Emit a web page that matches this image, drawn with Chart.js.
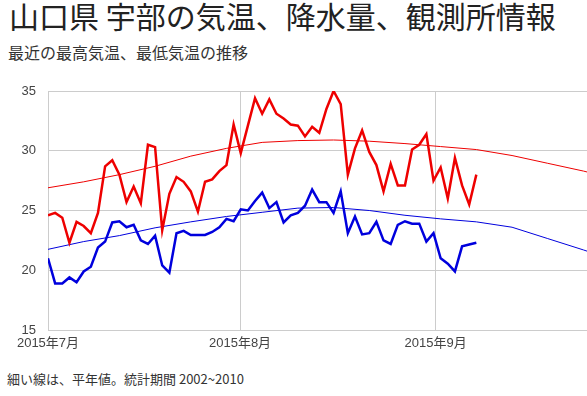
<!DOCTYPE html>
<html>
<head>
<meta charset="utf-8">
<script src="https://cdn.jsdelivr.net/npm/chart.js@4"></script>
<style>
  body { margin: 0; background: #fff; width: 587px; height: 396px; overflow: hidden; position: relative;
         font-family: "Noto Sans CJK JP", "Liberation Sans", sans-serif; }
  .title { position: absolute; left: 9px; top: 0; font-size: 30px; line-height: 30px; color: #222; white-space: nowrap; }
  .sub { position: absolute; left: 8px; top: 42px; font-size: 16px; line-height: 20px; color: #333; white-space: nowrap; }
  .note { position: absolute; left: 7px; top: 371px; font-size: 13px; line-height: 16px; color: #333; white-space: nowrap; }
  #chart { position: absolute; left: 0; top: 80px; }
</style>
</head>
<body>
<div class="title">山口県 宇部の気温、降水量、観測所情報</div>
<div class="sub">最近の最高気温、最低気温の推移</div>
<canvas id="chart" width="587" height="280"></canvas>
<div class="note">細い線は、平年値。統計期間 2002~2010</div>
<script>
// daily max / min (thick lines)
const maxTemp = [24.6, 24.8, 24.4, 22.3, 24.05, 23.7, 23.1, 24.8, 28.7, 29.2,
    28.0, 25.7, 27.0, 25.6, 30.5, 30.3, 23.35, 26.4, 27.8, 27.4,
    26.6, 24.9, 27.4, 27.6, 28.3, 28.8, 32.2, 29.8, 32.1, 34.4,
    33.1, 34.3, 33.1, 32.7, 32.2, 32.1, 31.2, 32.0, 31.5, 33.5,
    35.0, 33.9, 28.0, 30.2, 31.7, 29.9, 28.8, 26.6, 28.9, 27.1,
    27.1, 30.1, 30.5, 31.4, 27.5, 28.6, 26.0, 29.4, 27.1, 25.5, 28.0];
const minTemp = [21.0, 18.9, 18.9, 19.4, 19.0, 19.9, 20.3, 21.9, 22.4, 24.0,
    24.1, 23.6, 23.8, 22.5, 22.2, 22.9, 20.4, 19.8, 23.1, 23.3,
    22.95, 22.95, 22.95, 23.2, 23.6, 24.3, 24.1, 25.1, 25.0, 25.8,
    26.5, 25.2, 25.7, 24.0, 24.6, 24.8, 25.4, 26.75, 25.7, 25.7,
    24.8, 26.6, 23.1, 24.5, 23.0, 23.1, 24.05, 22.5, 22.2, 23.8,
    24.1, 23.9, 23.9, 22.4, 23.1, 21.0, 20.55, 19.9, 22.0, 22.15, 22.3];

// normals (thin lines), read every 5 days
const normalDays = [0, 5, 10, 15, 20, 25, 30, 35, 40, 45, 50, 55, 60, 65, 70, 75, 76];
const normalMax = [26.9, 27.4, 28.0, 28.7, 29.55, 30.2, 30.7, 30.85, 30.9, 30.8, 30.6, 30.35, 30.1, 29.6, 28.95, 28.3, 28.15];
const normalMin = [21.75, 22.4, 22.9, 23.55, 24.05, 24.5, 24.85, 25.2, 25.25, 25.0, 24.6, 24.3, 24.05, 23.6, 22.65, 21.7, 21.5];

const monthTicks = [0, 26.9, 54.3];
const monthLabels = ['2015年7月', '2015年8月', '2015年9月'];
const yTicks = [15, 20, 25, 30, 35];

const toPoints = (xs, ys) => ys.map((v, i) => ({ x: xs ? xs[i] : i, y: v }));

const ctx = document.getElementById('chart').getContext('2d');
const chart = new Chart(ctx, {
    type: 'line',
    data: {
        datasets: [
            { data: toPoints(null, maxTemp), borderColor: '#ee0000', borderWidth: 2.5 },
            { data: toPoints(null, minTemp), borderColor: '#0000dd', borderWidth: 2.5 },
            { data: toPoints(normalDays, normalMax), borderColor: '#ee0000', borderWidth: 1 },
            { data: toPoints(normalDays, normalMin), borderColor: '#0000dd', borderWidth: 1 }
        ]
    },
    options: {
        responsive: false,
        devicePixelRatio: 1,
        animation: false,
        elements: { point: { radius: 0 }, line: { tension: 0, fill: false } },
        layout: { padding: { top: 11, left: 0, right: 0, bottom: 0 } },
        plugins: { legend: { display: false }, tooltip: { enabled: false } },
        scales: {
            x: {
                type: 'linear',
                min: 0,
                max: 75.5,
                afterBuildTicks: (scale) => { scale.ticks = monthTicks.map(v => ({ value: v })); },
                afterFit: (scale) => { scale.height = 30; },
                ticks: {
                    callback: (v, i) => monthLabels[i],
                    maxRotation: 0,
                    autoSkip: false,
                    padding: 6,
                    color: '#444',
                    font: { family: '"Liberation Sans", "Noto Sans CJK JP"', size: 13 }
                },
                grid: { color: '#ccc', drawTicks: false },
                border: { color: '#ccc' }
            },
            y: {
                min: 15,
                max: 35,
                afterBuildTicks: (scale) => { scale.ticks = yTicks.map(v => ({ value: v })); },
                afterFit: (scale) => {
                    scale.width = 48;
                    scale.paddingTop = 0;
                    scale.paddingBottom = 0;
                },
                ticks: {
                    padding: 12,
                    color: '#444',
                    font: { family: '"Liberation Sans"', size: 13 }
                },
                grid: { color: '#ccc', drawTicks: false },
                border: { color: '#ccc' }
            }
        }
    }
});
</script>
</body>
</html>
